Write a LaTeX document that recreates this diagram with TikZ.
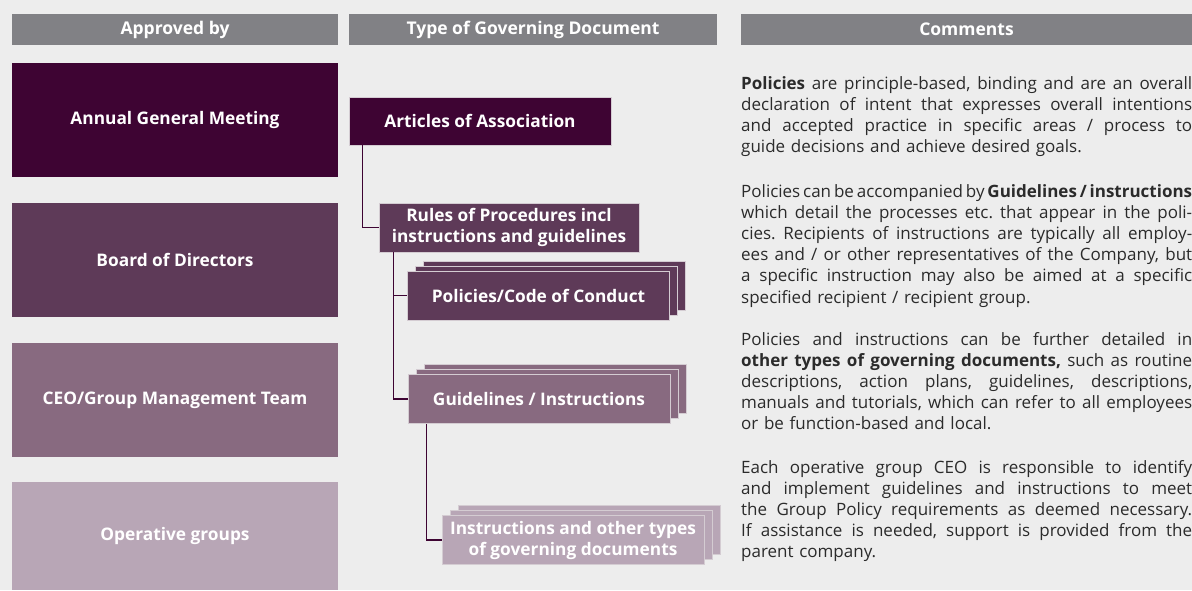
\documentclass[tikz,border=0pt]{standalone}
\usepackage{fontspec}
\setmainfont{Open Sans}
\usetikzlibrary{shadows}
\frenchspacing

\definecolor{bgc}{HTML}{EDEDED}
\definecolor{headc}{HTML}{818185}
\definecolor{agmc}{HTML}{3E0433}
\definecolor{boardc}{HTML}{5E3A58}
\definecolor{ceoc}{HTML}{886A80}
\definecolor{opc}{HTML}{B8A6B6}
\definecolor{edgec}{HTML}{D4CCD2}
\definecolor{txtc}{HTML}{2B2B2B}

\newcommand{\jline}[1]{\hbox to 451pt{\spaceskip=0.26em plus 1em minus 0.1em #1}}
\newcommand{\tightline}[1]{\hbox to 451pt{\spaceskip=0.12em plus 1em minus 0.05em #1}}

\begin{document}
\begin{tikzpicture}[x=1pt, y=-1pt,
    head/.style={fill=headc, text=white, font=\fontsize{17.5}{20}\selectfont\bfseries,
      minimum height=31pt, inner sep=0pt},
    level/.style={fill=#1, text=white, font=\fontsize{17.3}{20}\selectfont\bfseries,
      minimum width=326pt, minimum height=114pt, inner sep=0pt},
    doc/.style={fill=#1, draw=edgec, line width=0.8pt, text=white,
      font=\fontsize{17.3}{21}\selectfont\bfseries, align=center,
      minimum width=262pt, minimum height=49pt, inner sep=0pt},
    stack/.style={double copy shadow={shadow xshift=8pt, shadow yshift=5pt}},
    link/.style={draw=agmc, line width=1.5pt},
    comment/.style={anchor=base west, text width=451pt, inner sep=0pt, text=txtc,
      font=\fontsize{17}{21.2}\selectfont}
  ]

  \path[use as bounding box, fill=bgc] (0,0) rectangle (1192,590);

  \node[head, minimum width=326pt] (hApproved) at (175,29.5) {Approved by};
  \node[head, minimum width=368pt] (hType) at (533,29.5) {Type of Governing Document};
  \node[head, minimum width=451pt] (hComments) at (966.5,29.5) {Comments};

  \node[level=agmc] (agm) at (175,120) {Annual General Meeting};
  \node[level=boardc] (board) at (175,260) {Board of Directors};
  \node[level=ceoc] (ceo) at (175,400) {CEO/Group Management Team};
  \node[level=opc, minimum height=108pt] (ops) at (175,536) {Operative groups};

  \node[doc=agmc, minimum height=48pt] (articles) at (480,121) {Articles of Association};
  \node[doc=boardc, minimum width=260pt] (rules) at (509,227.5) {Rules of Procedures incl\\instructions and guidelines};
  \node[doc=boardc, stack] (policies) at (538.5,295.5) {Policies/Code of Conduct};
  \node[doc=ceoc, stack] (guidelines) at (539,399) {Guidelines / Instructions};
  \node[doc=opc, stack] (instructions) at (573,540) {Instructions and other types\\of governing documents};

  \draw[link] ([xshift=14pt]articles.south west) |- (rules.west);
  \draw[link] ([xshift=15pt]rules.south west) |- (policies.west);
  \draw[link] ([xshift=15pt]rules.south west) |- (guidelines.west);
  \draw[link] ([xshift=19pt]guidelines.south west) |- (instructions.west);

  \node[comment] (para1) at (741,89) {%
    \jline{\textbf{Policies} are principle-based, binding and are an overall}
    \jline{declaration of intent that expresses overall intentions}
    \jline{and accepted practice in specific areas / process to}
    \hbox{guide decisions and achieve desired goals.}};
  \node[comment] (para2) at (741,197) {%
    \tightline{Policies can be accompanied by \textbf{Guidelines\,/\,instructions}}
    \jline{which detail the processes etc. that appear in the poli-}
    \jline{cies. Recipients of instructions are typically all employ-}
    \jline{ees and / or other representatives of the Company, but}
    \jline{a specific instruction may also be aimed at a specific}
    \hbox{specified recipient / recipient group.}};
  \node[comment] (para3) at (741,345) {%
    \jline{Policies and instructions can be further detailed in}
    \jline{\textbf{other types of governing documents,} such as routine}
    \jline{descriptions, action plans, guidelines, descriptions,}
    \jline{manuals and tutorials, which can refer to all employees}
    \hbox{or be function-based and local.}};
  \node[comment] (para4) at (741,473) {%
    \jline{Each operative group CEO is responsible to identify}
    \jline{and implement guidelines and instructions to meet}
    \jline{the Group Policy requirements as deemed necessary.}
    \jline{If assistance is needed, support is provided from the}
    \hbox{parent company.}};

\end{tikzpicture}
\end{document}
